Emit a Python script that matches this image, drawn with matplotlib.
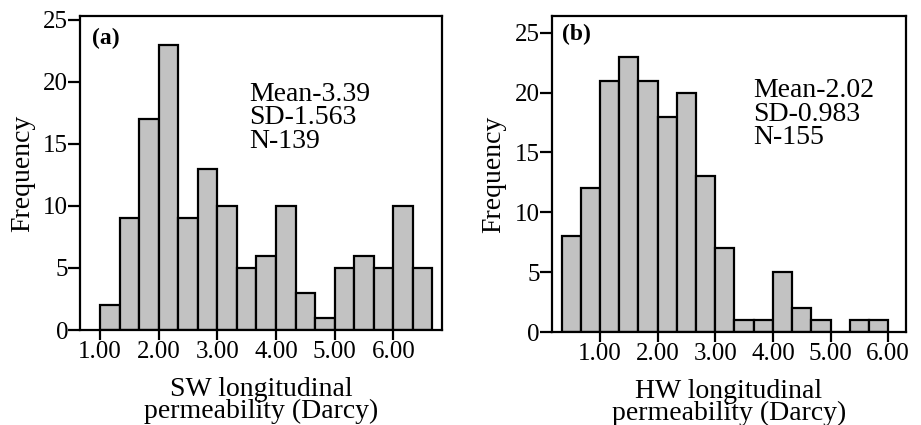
import numpy as np
import matplotlib
matplotlib.use("Agg")
import matplotlib.pyplot as plt

plt.rcParams.update({
    "font.family": "Liberation Serif",
    "font.size": 18,
    "axes.linewidth": 1.6,
})

# panel (a): SW longitudinal permeability
sw_start = 1.0
sw_counts = [2, 9, 17, 23, 9, 13, 10, 5, 6, 10, 3, 1, 5, 6, 5, 10, 5]
sw_stats = ["Mean-3.39", "SD-1.563", "N-139"]

# panel (b): HW longitudinal permeability
hw_start = 1.0 / 3.0
hw_counts = [8, 12, 21, 23, 21, 18, 20, 13, 7, 1, 1, 5, 2, 1, 0, 1, 1]
hw_stats = ["Mean-2.02", "SD-0.983", "N-155"]

bin_width = 1.0 / 3.0
x_ticks = [1, 2, 3, 4, 5, 6]
x_tick_labels = ["1.00", "2.00", "3.00", "4.00", "5.00", "6.00"]
y_ticks = [0, 5, 10, 15, 20, 25]

BAR_FILL = "#c2c2c2"


def draw_panel(ax, start, counts, stats, tag, xlabel, xlim, ylim, stats_xy, tag_xy):
    lefts = start + bin_width * np.arange(len(counts))
    ax.bar(lefts, counts, width=bin_width, align="edge",
           color=BAR_FILL, edgecolor="black", linewidth=1.6)
    ax.set_xlim(*xlim)
    ax.set_ylim(*ylim)
    ax.set_xticks(x_ticks)
    ax.set_xticklabels(x_tick_labels)
    ax.set_yticks(y_ticks)
    ax.tick_params(axis="both", direction="out", width=1.6, labelsize=18)
    ax.tick_params(axis="x", length=7, pad=1)
    ax.tick_params(axis="y", length=8.5, pad=0)
    ax.set_ylabel("Frequency", fontsize=20, labelpad=6)
    ax.set_xlabel(xlabel, fontsize=20, labelpad=10, linespacing=0.82)
    ax.text(stats_xy[0], stats_xy[1], "\n".join(stats), fontsize=20,
            ha="left", va="top", linespacing=0.92)
    ax.text(tag_xy[0], tag_xy[1], tag, fontsize=17, fontweight="bold",
            ha="left", va="center")


fig = plt.figure(figsize=(9.21, 4.25), dpi=100)
ax_a = fig.add_axes([0.0869, 0.2235, 0.393, 0.739])
ax_b = fig.add_axes([0.599, 0.2188, 0.3847, 0.7436])

draw_panel(ax_a, sw_start, sw_counts, sw_stats, "(a)",
           "SW longitudinal\npermeability (Darcy)",
           xlim=(0.66, 6.83), ylim=(0, 25.32),
           stats_xy=(3.55, 20.0), tag_xy=(0.86, 23.5))
draw_panel(ax_b, hw_start, hw_counts, hw_stats, "(b)",
           "HW longitudinal\npermeability (Darcy)",
           xlim=(0.16, 6.31), ylim=(0, 26.4),
           stats_xy=(3.65, 21.2), tag_xy=(0.34, 24.85))

fig.savefig("out.png", dpi=100)
